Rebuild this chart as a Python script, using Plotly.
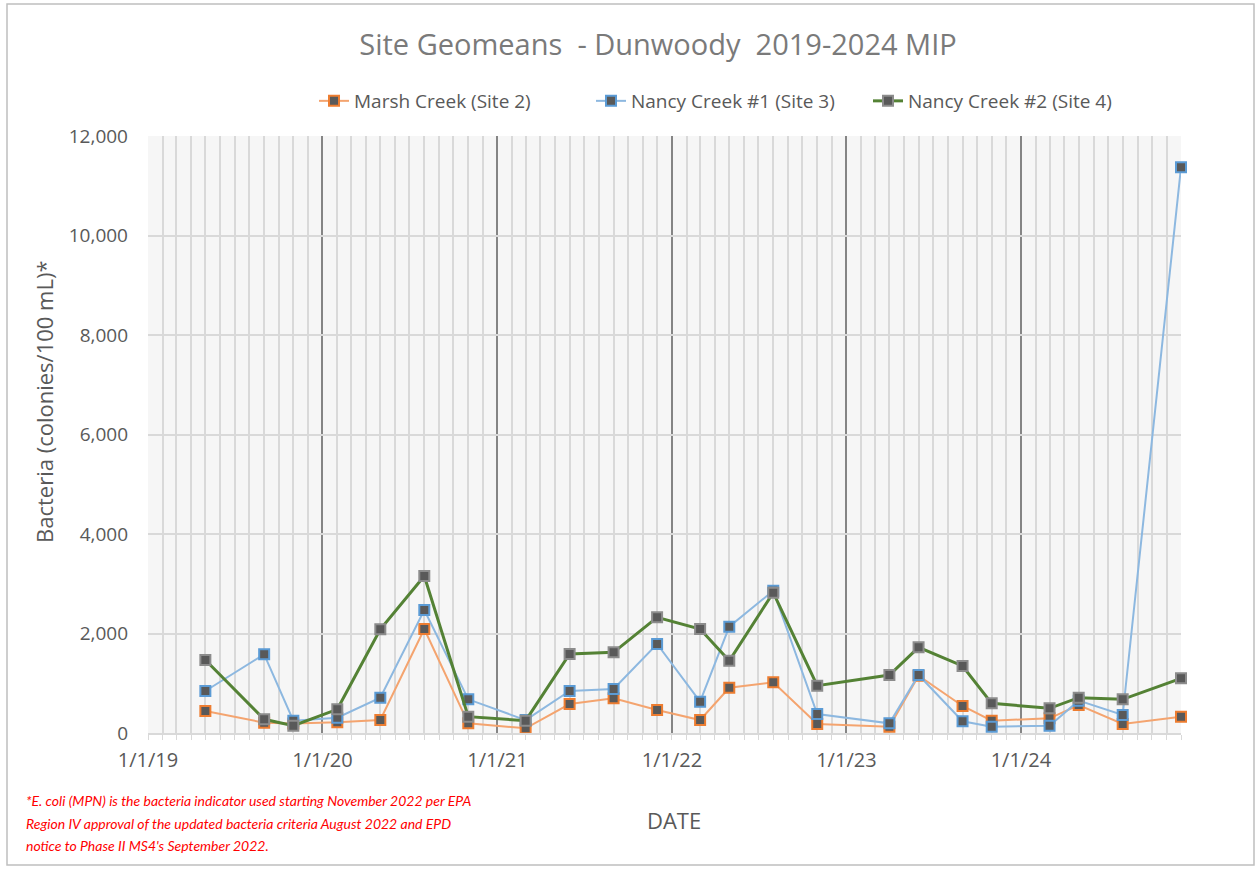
import plotly.graph_objects as go

dates = ["2019-05-01", "2019-09-01", "2019-11-01", "2020-02-01", "2020-05-01", "2020-08-01",
         "2020-11-01", "2021-03-01", "2021-06-01", "2021-09-01", "2021-12-01", "2022-03-01",
         "2022-05-01", "2022-08-01", "2022-11-01", "2023-04-01", "2023-06-01", "2023-09-01",
         "2023-11-01", "2024-03-01", "2024-05-01", "2024-08-01", "2024-12-01"]
marsh_creek = [442, 207, 190, 215, 261, 2090, 195, 94, 583, 697, 462, 261,
               910, 1019, 181, 127, 1150, 543, 248, 295, 563, 181, 328]
nancy_creek_1 = [844, 1581, 248, 308, 710, 2472, 677, 260, 844, 884, 1789, 629,
                 2137, 2860, 382, 195, 1166, 235, 127, 147, 650, 362, 11370]
nancy_creek_2 = [1467, 275, 147, 476, 2084, 3156, 328, 248, 1588, 1622, 2325, 2090,
                 1453, 2820, 951, 1166, 1722, 1347, 597, 496, 710, 677, 1099]

series_names = ["Marsh Creek (Site 2)", "Nancy Creek #1 (Site 3)", "Nancy Creek #2 (Site 4)"]
year_ticks = ["2019-01-01", "2020-01-01", "2021-01-01", "2022-01-01", "2023-01-01", "2024-01-01"]
year_labels = ["1/1/19", "1/1/20", "1/1/21", "1/1/22", "1/1/23", "1/1/24"]
footnote_lines = [
    "*E. coli (MPN) is the bacteria indicator used starting November 2022 per EPA",
    "Region IV approval of the updated bacteria criteria August 2022 and EPD",
    "notice to Phase II MS4's September 2022.",
]

FONT = "'Open Sans', sans-serif"
W, H = 1257, 869
L, R, T, B = 148, 1181, 136, 733
PW, PH = R - L, B - T


def px(x):
    return (x - L) / PW


def py(y):
    return (B - y) / PH


fig = go.Figure()
styles = [
    (marsh_creek, "#F4A46F", 2, "#ED7D31"),
    (nancy_creek_1, "#8DB8E0", 2, "#5B9BD5"),
    (nancy_creek_2, "#548235", 3, "#8C8C8C"),
]
for name, (vals, lc, lw, mc) in zip(series_names, styles):
    fig.add_trace(go.Scatter(
        x=dates, y=vals, name=name, mode="lines+markers",
        line=dict(color=lc, width=lw),
        marker=dict(symbol="square", size=10, color="#595959", line=dict(color=mc, width=2)),
        cliponaxis=False,
    ))

fig.update_layout(
    width=W, height=H,
    margin=dict(l=L, r=W - R, t=T, b=H - B, autoexpand=False),
    paper_bgcolor="white", plot_bgcolor="#f6f6f6",
    font=dict(family=FONT, color="#595959", size=17),
    title=dict(text="Site Geomeans  - Dunwoody  2019-2024 MIP", xref="container", x=658 / W,
               xanchor="center", yref="container", y=1 - 45 / H, yanchor="middle",
               font=dict(size=29, color="#7a7a7a")),
    legend=dict(orientation="h", x=px(314), xanchor="left", y=py(101),
                yanchor="middle", font=dict(size=19, color="#595959"), bgcolor="rgba(0,0,0,0)",
                traceorder="normal", entrywidth=232, entrywidthmode="pixels"),
    showlegend=True,
)
fig.update_xaxes(
    type="date", range=["2019-01-01", "2024-12-01"],
    tickvals=year_ticks, ticktext=year_labels,
    showgrid=True, gridcolor="#858585", gridwidth=2,
    minor=dict(dtick="M1", tick0="2019-01-01", showgrid=True, gridcolor="#d9d9d9", gridwidth=2,
               ticks="outside", ticklen=5, tickcolor="#d9d9d9"),
    ticks="", showline=True, linecolor="#d9d9d9", linewidth=2,
    tickfont=dict(size=20, color="#595959"), ticklabelstandoff=8,
    zeroline=False,
)
fig.update_yaxes(
    range=[0, 12000], dtick=2000, tickformat=",",
    showgrid=True, gridcolor="#d9d9d9", gridwidth=2,
    tickfont=dict(size=19, color="#595959"), ticklabelstandoff=19,
    zeroline=False, showline=False,
)
fig.add_annotation(
    xref="paper", yref="paper", x=px(44), y=py(402), xanchor="center", yanchor="middle",
    text="Bacteria (colonies/100 mL)*", textangle=-90, showarrow=False,
    font=dict(size=22, color="#595959"),
)
fig.add_annotation(
    xref="paper", yref="paper", x=px(674), y=py(820), xanchor="center", yanchor="middle",
    text="DATE", showarrow=False, font=dict(size=22, color="#595959"),
)
for i, line in enumerate(footnote_lines):
    fig.add_annotation(
        xref="paper", yref="paper", x=px(24), y=py(800 + 23 * i),
        xanchor="left", yanchor="middle", align="left", showarrow=False,
        text="<i>" + line + "</i>",
        font=dict(size=14, color="#FF0000", family="Lato, sans-serif"),
    )
fig.add_shape(type="rect", xref="paper", yref="paper",
              x0=px(7), x1=px(1254), y0=py(865), y1=py(4),
              line=dict(color="#BFBFBF", width=1.5), layer="below")
fig.write_html("out.html", config={"displayModeBar": False},
               post_script="document.body.style.margin='0';document.body.style.overflow='hidden';")
